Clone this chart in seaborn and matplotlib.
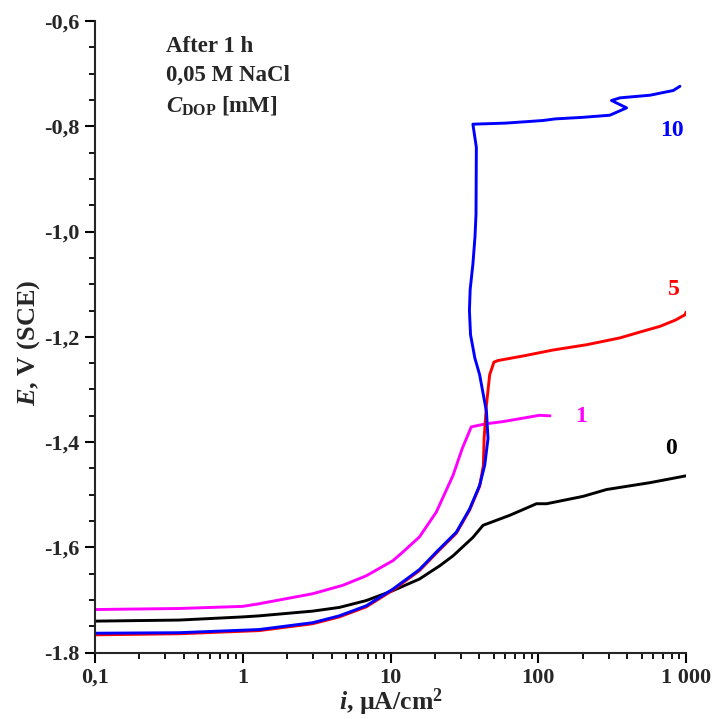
import matplotlib
matplotlib.use("Agg")
import matplotlib.pyplot as plt
import seaborn as sns
from matplotlib.ticker import FixedLocator, LogLocator, MultipleLocator, NullFormatter

# Cathodic polarization curves of the alloy in 0.05 M NaCl after 1 h,
# for several DOP concentrations (mM). Current density in µA/cm², potential in V (SCE).

i_0 = [0.1, 0.371, 1.0, 1.29, 2.97, 4.5, 6.84, 10.4, 15.7, 21.5, 26.5, 36.1, 42.3,
       64.1, 97.3, 114, 201, 290, 570, 1000]
E_0 = [-1.740, -1.738, -1.732, -1.730, -1.721, -1.714, -1.701, -1.682, -1.660, -1.635,
       -1.616, -1.581, -1.558, -1.539, -1.517, -1.517, -1.503, -1.490, -1.477, -1.464]

i_1 = [0.1, 0.371, 1.0, 1.29, 2.97, 4.75, 6.84, 10.4, 12.1, 15.7, 20.4, 26.5, 30.6,
       35.2, 44.6, 57.7, 102, 120]
E_1 = [-1.718, -1.716, -1.712, -1.707, -1.688, -1.672, -1.654, -1.625, -1.609, -1.580,
       -1.533, -1.463, -1.412, -1.371, -1.365, -1.361, -1.349, -1.350]

i_5 = [0.1, 0.371, 1.29, 2.97, 4.5, 6.84, 10.4, 15.7, 20.9, 27.9, 34.3, 40.1, 42.5,
       43.0, 44.6, 46.9, 50.1, 53.4, 80, 126, 212, 357, 500, 667, 850, 984, 1000]
E_5 = [-1.766, -1.764, -1.758, -1.745, -1.732, -1.713, -1.681, -1.644, -1.608, -1.573,
       -1.529, -1.484, -1.444, -1.393, -1.329, -1.272, -1.248, -1.245, -1.236, -1.225,
       -1.215, -1.202, -1.190, -1.180, -1.168, -1.158, -1.153]

i_10 = [0.1, 0.371, 1.29, 2.97, 4.5, 6.84, 10.4, 15.7, 20.9, 27.9, 34.3, 40.1, 43.4,
        45.7, 44.6, 40.1, 37.2, 34.8, 34.2, 34.6, 36.1, 37.3, 37.9, 38.1, 36.1, 60, 108,
        130, 200, 305, 396, 313, 357, 570, 820, 910]
E_10 = [-1.763, -1.762, -1.756, -1.743, -1.730, -1.711, -1.679, -1.642, -1.606, -1.571,
        -1.527, -1.482, -1.444, -1.393, -1.342, -1.272, -1.240, -1.196, -1.150, -1.110,
        -1.062, -1.010, -0.967, -0.840, -0.796, -0.794, -0.789, -0.786, -0.783, -0.779,
        -0.765, -0.751, -0.746, -0.741, -0.732, -0.724]

series = [
    (i_0, E_0, "black", "0", (791, -1.413)),
    (i_1, E_1, "#ff00ff", "1", (194, -1.352)),
    (i_5, E_5, "#ff0000", "5", (830, -1.111)),
    (i_10, E_10, "#0000ff", "10", (804, -0.808)),
]

y_ticks = [-1.8, -1.6, -1.4, -1.2, -1.0, -0.8, -0.6]
y_tick_labels = ["-1.8", "-1,6", "-1,4", "-1,2", "-1,0", "-0,8", "-0,6"]
x_ticks = [0.1, 1, 10, 100, 1000]
x_tick_labels = ["0,1", "1", "10", "100", "1 000"]

sns.set_style("ticks")
plt.rcParams.update({
    "font.family": ["Liberation Serif", "DejaVu Serif"],
    "font.weight": "bold",
    "mathtext.fontset": "custom",
    "mathtext.rm": "Liberation Serif:bold",
    "mathtext.it": "Liberation Serif:italic:bold",
    "mathtext.bf": "Liberation Serif:bold",
    "axes.linewidth": 1.5,
})

fig = plt.figure(figsize=(7.17, 7.19), dpi=100)
ax = fig.add_axes([0.1325, 0.0922, 0.8243, 0.8786])

for xs, ys, col, lab, pos in series:
    sns.lineplot(x=xs, y=ys, sort=False, estimator=None, color=col, lw=2.1, ax=ax)
    ax.text(pos[0], pos[1], lab, color=col, fontsize=17, fontweight="bold",
            ha="center", va="center")

ax.set_xscale("log")
ax.set_xlim(0.1, 1000)
ax.set_ylim(-1.8, -0.6)

ax.xaxis.set_major_locator(FixedLocator(x_ticks))
ax.set_xticklabels(x_tick_labels)
ax.xaxis.set_minor_locator(LogLocator(base=10, subs=range(2, 10)))
ax.xaxis.set_minor_formatter(NullFormatter())
ax.yaxis.set_major_locator(FixedLocator(y_ticks))
ax.set_yticklabels(y_tick_labels)
ax.yaxis.set_minor_locator(MultipleLocator(0.05))

ax.tick_params(which="major", length=7, width=1.5, labelsize=16, pad=4, color="black")
ax.tick_params(which="minor", length=4.5, width=1.3, color="black")
for t in ax.get_xticklabels() + ax.get_yticklabels():
    t.set_fontweight("bold")

sns.despine(ax=ax)

ax.set_xlabel(r"$i$, µA/cm$^2$", fontsize=18.5, fontweight="bold")
ax.set_ylabel(r"$E$, V (SCE)", fontsize=19, fontweight="bold")
ax.xaxis.set_label_coords(0.50, -0.054)
ax.yaxis.set_label_coords(-0.09, 0.49)

fig.text(0.2315, 0.9281, "After 1 h", fontsize=16.5, fontweight="bold", va="baseline")
fig.text(0.2315, 0.8873, "0,05 M NaCl", fontsize=16.5, fontweight="bold", va="baseline")
fig.text(0.2315, 0.8456, r"$C_{\mathrm{DOP}}$ [mM]", fontsize=16.5, fontweight="bold",
         va="baseline")

fig.savefig("out.png", dpi=100)
